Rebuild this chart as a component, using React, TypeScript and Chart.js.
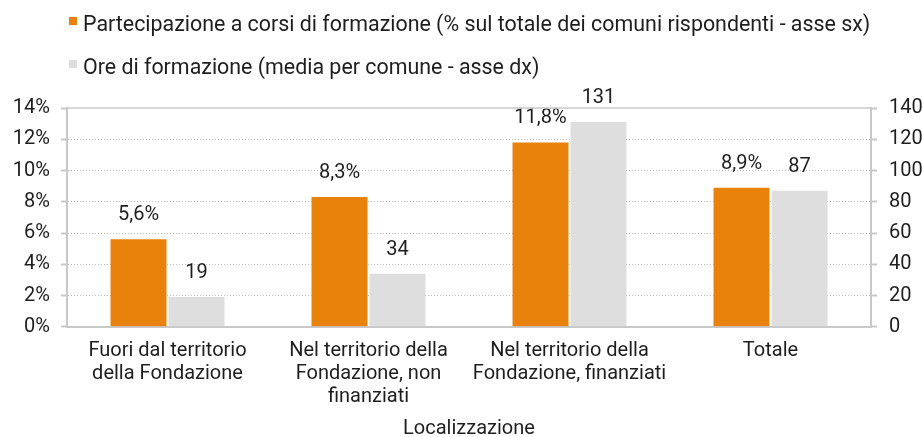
import { useEffect, useRef } from "react";
import { Chart, registerables } from "chart.js";

Chart.register(...registerables);

const categories: string[][] = [
  ["Fuori dal territorio", "della Fondazione"],
  ["Nel territorio della", "Fondazione, non", "finanziati"],
  ["Nel territorio della", "Fondazione, finanziati"],
  ["Totale"],
];
const participationPct = [5.6, 8.3, 11.8, 8.9];
const trainingHours = [19, 34, 131, 87];
const seriesNames = [
  "Partecipazione a corsi di formazione (% sul totale dei comuni rispondenti - asse sx)",
  "Ore di formazione (media per comune - asse dx)",
];
const xAxisTitle = "Localizzazione";
const leftAxisMax = 14;
const leftAxisStep = 2;
const rightAxisMax = 140;
const rightAxisStep = 20;

const FONT = "Roboto";
const TEXT = "#1e1e1e";
const ORANGE = "#E8820A";
const GRAY = "#DEDEDE";
const AXIS = "#C8C8C8";
const GRID = "#BDBDBD";

const legendPlugin = {
  id: "customLegend",
  afterDraw(chart: any) {
    const { ctx, chartArea } = chart;
    ctx.save();
    ctx.font = `21.4px ${FONT}`;
    ctx.textBaseline = "alphabetic";
    ctx.textAlign = "left";
    chart.data.datasets.forEach((ds: any, i: number) => {
      const baseline = chartArea.top - 77 + i * 43;
      const x = chartArea.left + 2;
      ctx.fillStyle = ds.backgroundColor;
      ctx.fillRect(x, baseline - 14, 8, 8);
      ctx.fillStyle = TEXT;
      ctx.fillText(ds.label, x + 14, baseline);
    });
    ctx.restore();
  },
};

const topLinePlugin = {
  id: "topLine",
  afterDraw(chart: any) {
    const { ctx, chartArea } = chart;
    ctx.save();
    ctx.strokeStyle = AXIS;
    ctx.lineWidth = 1.5;
    ctx.beginPath();
    ctx.moveTo(chartArea.left, chartArea.top);
    ctx.lineTo(chartArea.right, chartArea.top);
    ctx.stroke();
    ctx.restore();
  },
};

const valueLabelPlugin = {
  id: "valueLabels",
  afterDatasetsDraw(chart: any) {
    const { ctx } = chart;
    ctx.save();
    ctx.font = `20px ${FONT}`;
    ctx.fillStyle = TEXT;
    ctx.textAlign = "center";
    ctx.textBaseline = "alphabetic";
    chart.data.datasets.forEach((ds: any, di: number) => {
      const meta = chart.getDatasetMeta(di);
      meta.data.forEach((el: any, i: number) => {
        const v = ds.data[i];
        const txt =
          di === 0 ? v.toFixed(1).replace(".", ",") + "%" : String(Math.round(v));
        ctx.fillText(txt, el.x, el.y - 19);
      });
    });
    ctx.restore();
  },
};

export default function App() {
  const canvasRef = useRef<HTMLCanvasElement | null>(null);

  useEffect(() => {
    if (!canvasRef.current) return;
    const chart = new Chart(canvasRef.current, {
      type: "bar",
      data: {
        labels: categories,
        datasets: [
          {
            label: seriesNames[0],
            data: participationPct,
            backgroundColor: ORANGE,
            yAxisID: "y",
            barPercentage: 0.965,
            categoryPercentage: 0.577,
          },
          {
            label: seriesNames[1],
            data: trainingHours,
            backgroundColor: GRAY,
            yAxisID: "y1",
            barPercentage: 0.965,
            categoryPercentage: 0.577,
          },
        ],
      },
      options: {
        animation: false,
        responsive: true,
        maintainAspectRatio: false,
        layout: { padding: { top: 108, left: 0, right: 0, bottom: 0 } },
        plugins: {
          legend: { display: false },
          tooltip: { enabled: false },
        },
        scales: {
          x: {
            grid: { display: false, drawTicks: false },
            border: { display: true, color: AXIS, width: 2 },
            ticks: {
              color: TEXT,
              font: { family: FONT, size: 20, lineHeight: 1.17 },
              padding: 12,
              maxRotation: 0,
              autoSkip: false,
            },
            title: {
              display: true,
              text: xAxisTitle,
              color: TEXT,
              font: { family: FONT, size: 20, lineHeight: 1.0 },
              padding: { top: -2, bottom: -2 },
            },
          },
          y: {
            position: "left",
            min: 0,
            max: leftAxisMax,
            afterFit: (s: any) => {
              s.width = 67;
            },
            ticks: {
              stepSize: leftAxisStep,
              color: TEXT,
              font: { family: FONT, size: 20 },
              padding: 11,
              callback: (v: any) => `${v}%`,
            },
            grid: {
              color: (c: any) =>
                c.tick && (c.tick.value === 0 || c.tick.value === leftAxisMax)
                  ? "rgba(0,0,0,0)"
                  : GRID,
              lineWidth: 1,
              tickLength: 6,
              tickColor: AXIS,
              tickWidth: 2,
            },
            border: { display: true, color: AXIS, width: 2, dash: [1, 2] },
          },
          y1: {
            position: "right",
            min: 0,
            max: rightAxisMax,
            afterFit: (s: any) => {
              s.width = 51;
            },
            ticks: {
              stepSize: rightAxisStep,
              color: TEXT,
              font: { family: FONT, size: 20 },
              padding: 12,
            },
            grid: {
              drawOnChartArea: false,
              tickLength: 6,
              tickColor: AXIS,
              tickWidth: 2,
            },
            border: { display: true, color: AXIS, width: 2 },
          },
        },
      },
      plugins: [legendPlugin, topLinePlugin, valueLabelPlugin],
    });
    return () => chart.destroy();
  }, []);

  return (
    <div style={{ position: "fixed", left: 0, top: 0, width: 922, height: 437, background: "#fff" }}>
      <canvas ref={canvasRef} />
    </div>
  );
}
